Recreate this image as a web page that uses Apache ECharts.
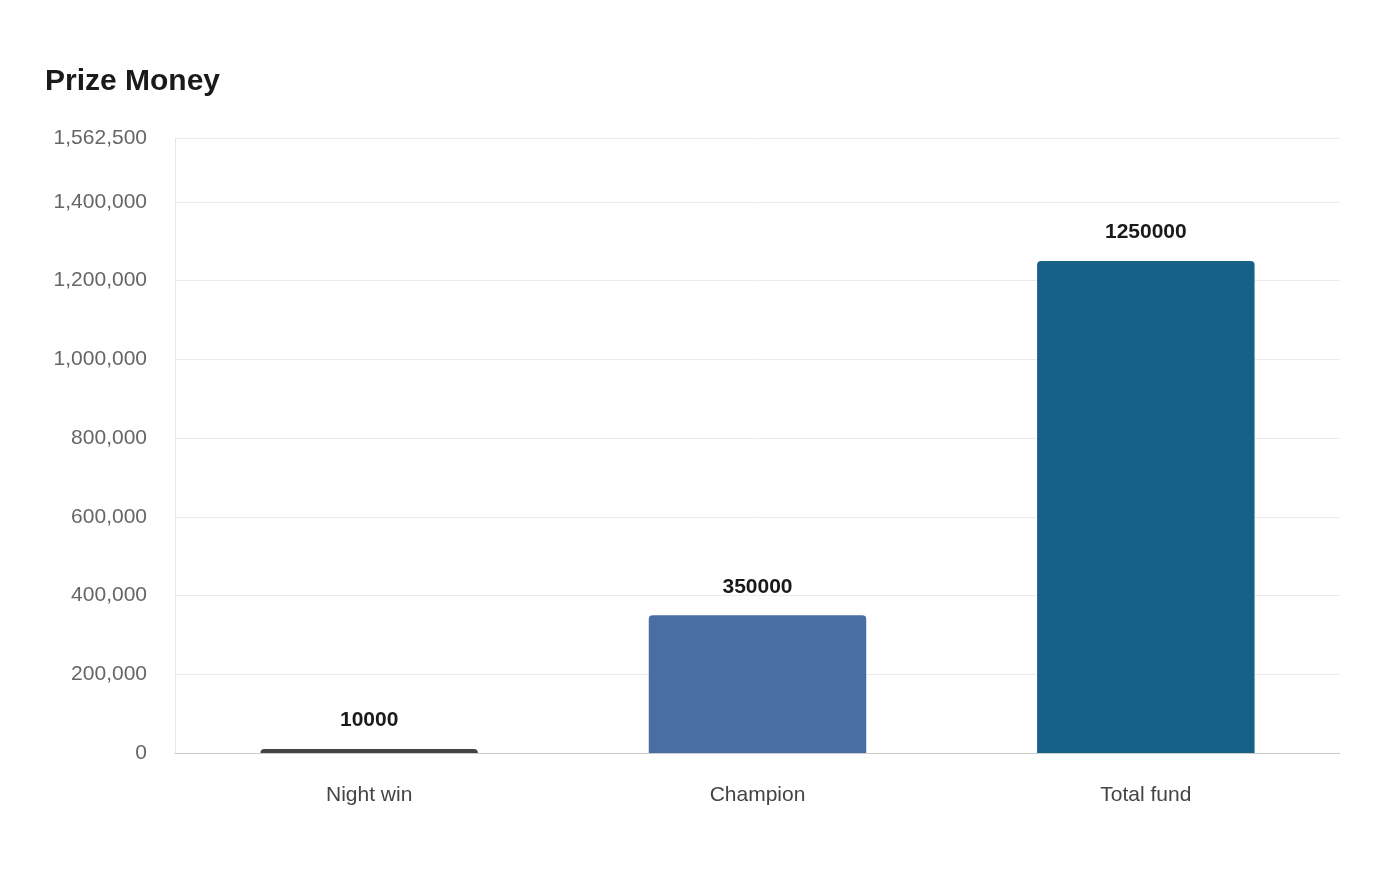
<!DOCTYPE html>
<html><head><meta charset="utf-8">
<script src="https://cdn.jsdelivr.net/npm/echarts@6/dist/echarts.min.js"></script>
<style>html,body{margin:0;padding:0;background:#fff}#c{width:1400px;height:880px}</style>
</head><body><div id="c"></div>
<script>
const categories = ["Night win", "Champion", "Total fund"];
const values = [10000, 350000, 1250000];
const colors = ["#444444", "#4a6da3", "#176189"];
const chart = echarts.init(document.getElementById('c'));
chart.setOption({
  backgroundColor: '#fff',
  textStyle: { fontFamily: 'Liberation Sans, Arial, sans-serif' },
  title: { text: 'Prize Money', left: 40, top: 62, textStyle: { fontSize: 30, fontWeight: 'bold', color: '#1a1a1a', fontFamily: 'Liberation Sans' } },
  grid: { left: 175, right: 60, top: 138, bottom: 127 },
  xAxis: {
    type: 'category', data: categories,
    axisLine: { lineStyle: { color: '#cccccc' } },
    axisTick: { show: false },
    axisLabel: { fontSize: 21, color: '#444', margin: 32 }
  },
  yAxis: {
    type: 'value', min: 0, max: 1562500, interval: 200000,
    axisLine: { show: true, lineStyle: { color: '#e6e6e6' } },
    splitLine: { lineStyle: { color: '#ebebeb' } },
    axisLabel: { fontSize: 21, color: '#666', margin: 28, formatter: v => v.toLocaleString('en-US') }
  },
  series: [{
    type: 'bar', barWidth: '56%',
    data: values.map((v, i) => ({ value: v, itemStyle: { color: colors[i] } })),
    itemStyle: { borderRadius: [4, 4, 0, 0] },
    label: { show: true, position: 'top', distance: 18, fontSize: 21, fontWeight: 'bold', color: '#1a1a1a' }
  }]
});
</script></body></html>
